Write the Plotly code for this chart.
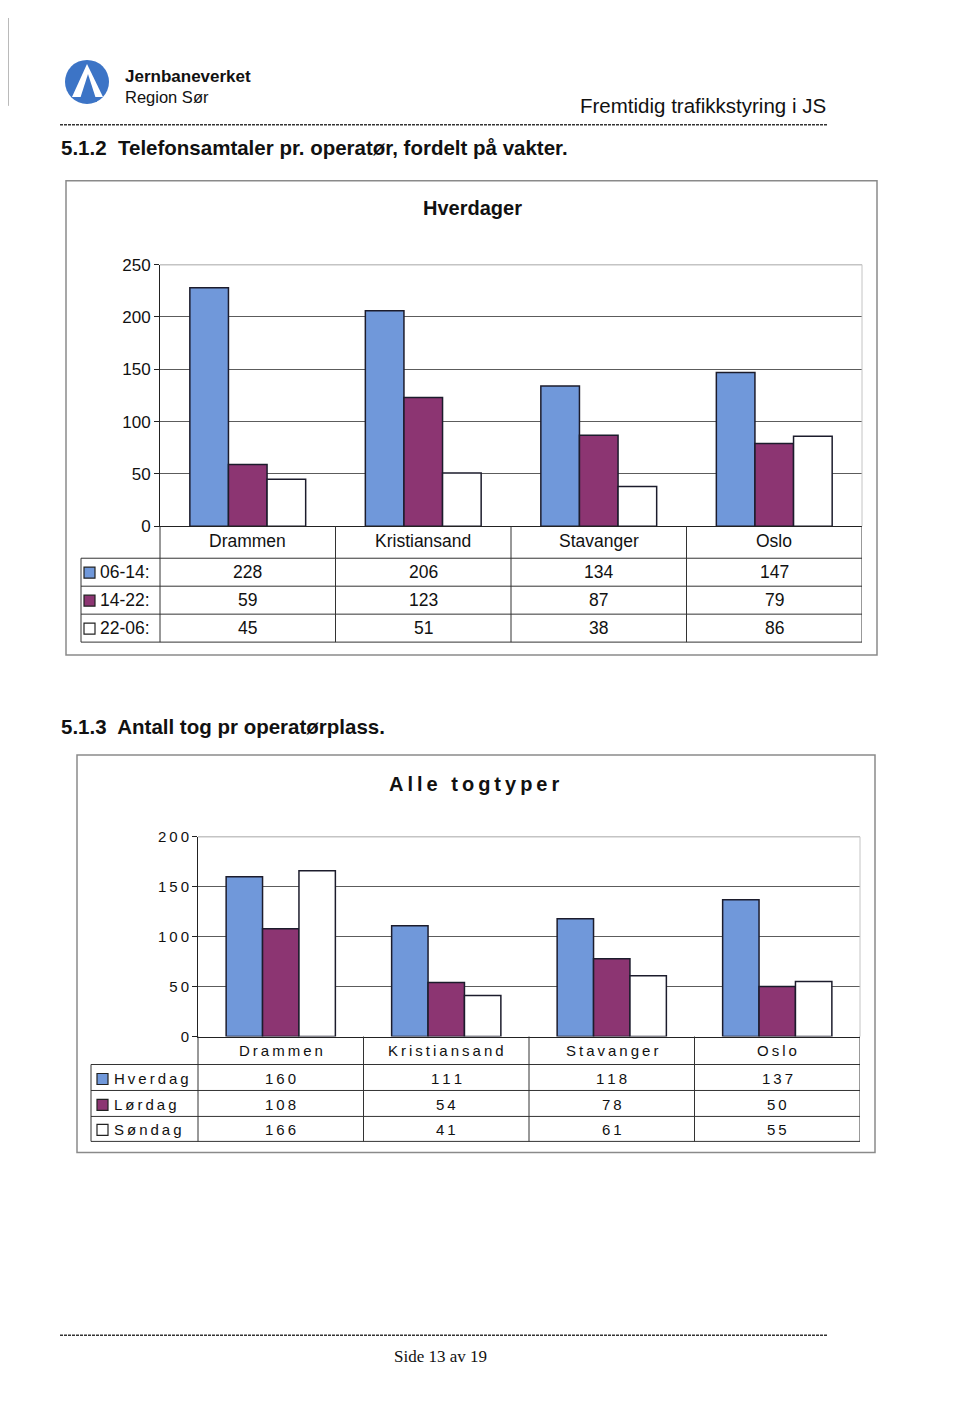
import plotly.graph_objects as go

W, H = 960, 1425
# the rendered page places the figure with a small offset; map reference pixels to paper
OX, OY, HS = 8, 16, 1408


def px(x):
    return (x - OX) / W


def py(y):
    return 1 - (y - OY) / HS


def spaced(s):
    return "\u2009".join(list(s))


# ---------------- data ----------------
cities = ["Drammen", "Kristiansand", "Stavanger", "Oslo"]

# Chart 1: Telefonsamtaler (Hverdager)
shift_names = ["06-14:", "14-22:", "22-06:"]
shift_0614 = [228, 206, 134, 147]
shift_1422 = [59, 123, 87, 79]
shift_2206 = [45, 51, 38, 86]
y1_ticks = [0, 50, 100, 150, 200, 250]

# Chart 2: Antall tog (Alle togtyper)
day_names = ["Hverdag", "Lørdag", "Søndag"]
trains_hverdag = [160, 111, 118, 137]
trains_lordag = [108, 54, 78, 50]
trains_sondag = [166, 41, 61, 55]
y2_ticks = [0, 50, 100, 150, 200]

BLUE = "#7098DA"
PLUM = "#8C3572"
WHITE = "#FFFFFF"
SERIES_COLORS = [BLUE, PLUM, WHITE]
EDGE = "#1c1c2c"
FONT = "Arial, 'Liberation Sans', sans-serif"

fig = go.Figure()

series1 = [shift_0614, shift_1422, shift_2206]
for name, vals, col in zip(shift_names, series1, SERIES_COLORS):
    fig.add_trace(go.Bar(x=cities, y=vals, name=name, xaxis="x", yaxis="y",
                         marker=dict(color=col, line=dict(color=EDGE, width=1.5)),
                         showlegend=False))

series2 = [trains_hverdag, trains_lordag, trains_sondag]
for name, vals, col in zip(day_names, series2, SERIES_COLORS):
    fig.add_trace(go.Bar(x=cities, y=vals, name=name, xaxis="x2", yaxis="y2",
                         marker=dict(color=col, line=dict(color=EDGE, width=1.5)),
                         showlegend=False))

shapes = []
annotations = []


def pline(x0, y0, x1, y1, color="#333333", width=1, dash=None):
    d = dict(type="line", xref="paper", yref="paper",
             x0=px(x0), x1=px(x1), y0=py(y0), y1=py(y1),
             line=dict(color=color, width=width), layer="above")
    if dash:
        d["line"]["dash"] = dash
    shapes.append(d)


def text(x, y, s, size, bold=False, anchor="left", family=FONT, color="#111111", xref="paper"):
    annotations.append(dict(
        x=px(x) if xref == "paper" else x, y=py(y), xref=xref, yref="paper",
        text=f"<b>{s}</b>" if bold else s, showarrow=False,
        xanchor=anchor, yanchor="middle",
        font=dict(family=family, size=size, color=color)))


# ---------------- page header ----------------
shapes.append(dict(type="circle", xref="paper", yref="paper",
                   x0=px(65), x1=px(109), y0=py(103), y1=py(59),
                   fillcolor="#3C74C6", line=dict(width=0)))


def path(points):
    return "M " + " L ".join(f"{px(a)},{py(b)}" for a, b in points) + " Z"


shapes.append(dict(type="path", xref="paper", yref="paper",
                   path=path([(87, 63), (72, 96), (103, 96)]),
                   fillcolor="white", line=dict(width=0)))
shapes.append(dict(type="path", xref="paper", yref="paper",
                   path=path([(88, 73), (79, 101), (97, 101)]),
                   fillcolor="#3C74C6", line=dict(width=0)))

text(123, 76, "Jernbaneverket", 17, bold=True)
text(123, 96, "Region Sør", 16.5)
text(828, 105, "Fremtidig trafikkstyring i JS", 20.5, anchor="right")
pline(60, 124, 828, 124, color="#333333", width=1.5, dash="3px,1px")
text(59, 147, "5.1.2  Telefonsamtaler pr. operatør, fordelt på vakter.", 20.5, bold=True)

text(59, 727, "5.1.3  Antall tog pr operatørplass.", 20.5, bold=True)

pline(60, 1336, 828, 1336, color="#333333", width=1.5, dash="3px,1px")
text(440, 1357, "Side 13 av 19", 17, anchor="center",
     family="'Liberation Serif', 'Times New Roman', serif")

# scan edges
pline(8, 17, 8, 105, color="#777777", width=1)
pline(954, 1000, 954, 1425, color="#999999", width=1)

# ---------------- chart 1 frame / table ----------------
shapes.append(dict(type="rect", xref="paper", yref="paper",
                   x0=px(66), x1=px(877), y0=py(655), y1=py(180),
                   line=dict(color="#8a8a8a", width=1.5), layer="below"))
text(472, 207, "Hverdager", 20, bold=True, anchor="center")
# plot area top/right (light)
pline(160, 264, 862, 264, color="#c4c4c4", width=1.5)
pline(862, 264, 862, 526, color="#c4c4c4", width=1)

for yy in [558, 586, 614, 642]:
    pline(81, yy, 862, yy)
pline(81, 558, 81, 642)
pline(160, 526, 160, 642)
for b in [0.5, 1.5, 2.5, 3.5]:
    shapes.append(dict(type="line", xref="x", yref="paper", x0=b, x1=b,
                       y0=py(526), y1=py(642), line=dict(color="#333333", width=1)))

for c in cities:
    text(c, 541, c, 17.5, anchor="center", xref="x")
row_y1 = [572, 600, 628]
for ry, name, vals, col in zip(row_y1, shift_names, series1, SERIES_COLORS):
    shapes.append(dict(type="rect", xref="paper", yref="paper",
                       x0=px(84), x1=px(95), y0=py(ry + 6), y1=py(ry - 5),
                       fillcolor=col, line=dict(color="#222222", width=1.2)))
    text(98, ry, name, 17.5)
    for c, v in zip(cities, vals):
        text(c, ry, str(v), 17.5, anchor="center", xref="x")

# ---------------- chart 2 frame / table ----------------
shapes.append(dict(type="rect", xref="paper", yref="paper",
                   x0=px(77), x1=px(875), y0=py(1153), y1=py(755),
                   line=dict(color="#8a8a8a", width=1.5), layer="below"))
text(474, 784, spaced("Alle togtyper"), 20, bold=True, anchor="center")
pline(198, 837, 860, 837, color="#c4c4c4", width=1.5)
pline(860, 837, 860, 1037, color="#c4c4c4", width=1)

for yy in [1065, 1091, 1117, 1142]:
    pline(91, yy, 860, yy)
pline(91, 1065, 91, 1142)
pline(198, 1037, 198, 1142)
for b in [0.5, 1.5, 2.5, 3.5]:
    shapes.append(dict(type="line", xref="x2", yref="paper", x0=b, x1=b,
                       y0=py(1037), y1=py(1142), line=dict(color="#333333", width=1)))

for c in cities:
    text(c, 1051, spaced(c), 15, anchor="center", xref="x2")
row_y2 = [1079, 1105, 1130]
for ry, name, vals, col in zip(row_y2, day_names, series2, SERIES_COLORS):
    shapes.append(dict(type="rect", xref="paper", yref="paper",
                       x0=px(97), x1=px(108), y0=py(ry + 6), y1=py(ry - 5),
                       fillcolor=col, line=dict(color="#222222", width=1.2)))
    text(112, ry, spaced(name), 15)
    for c, v in zip(cities, vals):
        text(c, ry, spaced(str(v)), 15, anchor="center", xref="x2")

axis_common = dict(showgrid=False, zeroline=False, fixedrange=True)

fig.update_layout(
    width=W, height=H,
    margin=dict(l=0, r=0, t=0, b=0),
    paper_bgcolor="white", plot_bgcolor="white",
    barmode="group", bargap=0.34, bargroupgap=0,
    font=dict(family=FONT, color="#111111"),
    xaxis=dict(domain=[px(160), px(862)], anchor="y", range=[-0.5, 3.5],
               showticklabels=False, ticks="", showline=True, linecolor="#222222",
               linewidth=1, **axis_common),
    yaxis=dict(domain=[py(526), py(264)], anchor="x", range=[0, 250],
               tickvals=y1_ticks, ticktext=[str(t) for t in y1_ticks],
               ticks="outside", ticklen=5, tickcolor="#222222",
               showline=True, linecolor="#222222", linewidth=1,
               showgrid=True, gridcolor="#5c5c5c", gridwidth=1, zeroline=False,
               tickfont=dict(size=17, family=FONT, color="#111111"), fixedrange=True),
    xaxis2=dict(domain=[px(198), px(860)], anchor="y2", range=[-0.5, 3.5],
                showticklabels=False, ticks="", showline=True, linecolor="#222222",
                linewidth=1, **axis_common),
    yaxis2=dict(domain=[py(1037), py(837)], anchor="x2", range=[0, 200],
                tickvals=y2_ticks, ticktext=[spaced(str(t)) for t in y2_ticks],
                ticks="outside", ticklen=5, tickcolor="#222222",
                showline=True, linecolor="#222222", linewidth=1,
                showgrid=True, gridcolor="#5c5c5c", gridwidth=1, zeroline=False,
                tickfont=dict(size=15, family=FONT, color="#111111"), fixedrange=True),
    shapes=shapes,
    annotations=annotations,
)

fig.write_html("out.html")
